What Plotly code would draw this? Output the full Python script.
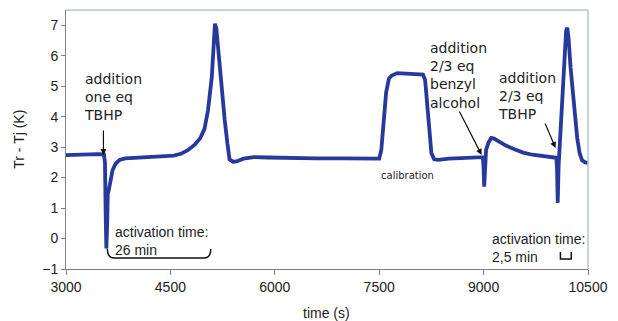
import plotly.graph_objects as go

# ---- data ----
time_s = [3000, 3150, 3300, 3450, 3545, 3560, 3570, 3580, 3592, 3600, 3615, 3640, 3670, 3710,
          3770, 3850, 4000, 4200, 4400, 4550, 4650, 4750, 4850, 4930, 4990, 5040, 5095, 5120, 5140,
          5160, 5180, 5230, 5280, 5320, 5350, 5400, 5450, 5550, 5700, 5900, 6200, 6600, 7000,
          7300, 7500, 7530, 7560, 7600, 7640, 7680, 7760, 7900, 8050, 8130, 8160, 8190, 8220,
          8250, 8290, 8350, 8500, 8700, 8900, 8990, 9000, 9008, 9020, 9035, 9070, 9110, 9150,
          9220, 9320, 9450, 9570, 9700, 9850, 10000, 10045, 10055, 10065, 10078, 10100, 10130,
          10160, 10185, 10202, 10220, 10250, 10280, 10310, 10345, 10380, 10415, 10460, 10500]
tr_tj = [2.74, 2.76, 2.78, 2.77, 2.76, 2.5, 0.8, -0.33, 0.5, 1.45, 1.6, 1.9, 2.25, 2.45,
         2.58, 2.63, 2.65, 2.66, 2.68, 2.72, 2.78, 2.9, 3.08, 3.3, 3.6, 4.2, 5.3, 6.3, 7.05,
         6.9, 6.4, 5.0, 3.9, 3.1, 2.6, 2.52, 2.53, 2.62, 2.67, 2.66, 2.64, 2.63, 2.63,
         2.62, 2.62, 2.9, 3.8, 4.8, 5.25, 5.35, 5.43, 5.42, 5.4, 5.38, 5.2, 4.4, 3.4,
         2.8, 2.6, 2.58, 2.62, 2.65, 2.66, 2.67, 2.3, 1.7, 2.2, 2.9, 3.15, 3.3, 3.28,
         3.18, 3.05, 2.92, 2.82, 2.75, 2.7, 2.66, 2.65, 2.3, 1.17, 2.4, 3.3, 4.7,
         6.0, 6.8, 6.92, 6.6, 5.6, 4.8, 4.0, 3.3, 2.8, 2.57, 2.5, 2.48]

x_ticks = [3000, 4500, 6000, 7500, 9000, 10500]
y_ticks = [-1, 0, 1, 2, 3, 4, 5, 6, 7]

# pixel -> paper helpers for annotation placement
L, R, T, B = 66, 596, 10, 269
def px(x):
    return (x - L) / (R - L)
def py(y):
    return (B - y) / (B - T)

LINE = "#27399a"
fig = go.Figure()
fig.add_trace(go.Scatter(x=time_s, y=tr_tj, mode="lines",
                         line=dict(color=LINE, width=3.8), hoverinfo="skip"))

axis_font = dict(family="Liberation Sans, Arial", size=14, color="#222")
fig.update_layout(
    width=618, height=321,
    margin=dict(l=L, r=618 - R, t=T, b=321 - B),
    paper_bgcolor="white", plot_bgcolor="white",
    showlegend=False,
    xaxis=dict(range=[3000, 10500], tickvals=x_ticks, tickformat="d", ticks="outside",
               ticklen=5, tickcolor="#808080", showline=True, linecolor="#808080",
               linewidth=1, showgrid=False, zeroline=False, tickfont=axis_font),
    yaxis=dict(range=[-1, 7.5], tickvals=y_ticks, ticks="outside", ticklen=4,
               tickcolor="#808080", showline=True, linecolor="#808080", linewidth=1,
               showgrid=False, zeroline=False, tickfont=axis_font),
)

# top and right border of the plot box
fig.add_shape(type="line", xref="paper", yref="paper", x0=0, x1=1, y0=1, y1=1,
              line=dict(color="#b4c3d0", width=1.5))
fig.add_shape(type="line", xref="paper", yref="paper", x0=1, x1=1, y0=0, y1=1,
              line=dict(color="#b4c3d0", width=1.5))

lab_font = dict(family="DejaVu Sans, Verdana", size=14, color="#222")
arial = dict(family="Liberation Sans, Arial", size=14, color="#222")

def text(x, y, s, font, xanchor="left", angle=0):
    fig.add_annotation(xref="paper", yref="paper", x=px(x), y=py(y), text=s,
                       showarrow=False, xanchor=xanchor, yanchor="middle",
                       align="left", font=font, textangle=angle)

def arrow(x0, y0, x1, y1):
    fig.add_annotation(xref="paper", yref="paper", x=px(x1), y=py(y1), text="",
                       showarrow=True, axref="pixel", ayref="pixel",
                       ax=x0 - x1, ay=y0 - y1, arrowhead=2, arrowsize=1,
                       arrowwidth=1.2, arrowcolor="#111")

text(82, 97, "addition<br>one eq<br>TBHP", lab_font)
arrow(104, 129, 104, 155)
text(114, 241, "activation time:<br>26 min", arial)
text(413, 175, "calibration", dict(family="DejaVu Sans, Verdana", size=10, color="#222"), xanchor="center")
text(434, 75, "addition<br>2/3 eq<br>benzyl<br>alcohol", lab_font)
arrow(465, 110, 488, 155)
text(503, 96, "addition<br>2/3 eq<br>TBHP", lab_font)
arrow(552, 122, 563, 148)
text(497, 248, "activation time:<br>2,5 min", arial)

# brackets
fig.add_shape(type="path", xref="paper", yref="paper",
              path=(f"M {px(108)},{py(249)} Q {px(108)},{py(258)} {px(115)},{py(258)} "
                    f"L {px(206)},{py(258)} Q {px(213)},{py(258)} {px(213)},{py(249)}"),
              line=dict(color="#111", width=1.5))
fig.add_shape(type="path", xref="paper", yref="paper",
              path=(f"M {px(568)},{py(252)} L {px(568)},{py(259)} "
                    f"L {px(579)},{py(259)} L {px(579)},{py(252)}"),
              line=dict(color="#111", width=1.5))

# axis titles
text(330, 313, "time (s)", arial, xanchor="center")
text(18, 139, "Tr - Tj (K)", arial, xanchor="center", angle=-90)

fig.write_html("out.html", config={"displayModeBar": False},
               post_script="document.body.style.margin='0px';document.body.style.overflow='hidden';")
